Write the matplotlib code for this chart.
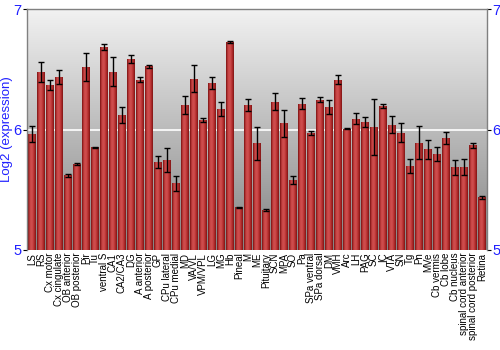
import numpy as np
import matplotlib
matplotlib.use('Agg')
import matplotlib.pyplot as plt
from matplotlib.colors import LinearSegmentedColormap

regions = ['LS', 'RS', 'Cx motor', 'Cx cingulate', 'OB anterior', 'OB posterior', 'Pir', 'Tu',
           'ventral S', 'CA1', 'CA2/CA3', 'DG', 'A anterior', 'A posterior', 'GP', 'CPu lateral',
           'CPu medial', 'MD', 'VA/VL', 'VPM/VPL', 'LG', 'MG', 'Hb', 'Pineal', 'M', 'ME',
           'Pituitary', 'SCN', 'MPA', 'SO', 'Pa', 'SPa ventral', 'SPa dorsal', 'DM', 'VMH', 'Arc',
           'LH', 'PAG', 'SC', 'IC', 'VTA', 'SN', 'Tg', 'Pn', 'MVe', 'Cb vermis', 'Cb lobe',
           'Cb nucleus', 'spinal cord anterior', 'spinal cord posterior', 'Retina']

expr = [5.964, 6.478, 6.367, 6.436, 5.619, 5.713, 6.519, 5.851,
        6.688, 6.481, 6.122, 6.586, 6.414, 6.525, 5.729, 5.749,
        5.552, 6.207, 6.423, 6.080, 6.384, 6.171, 6.727, 5.354, 6.204, 5.884,
        5.331, 6.232, 6.050, 5.580, 6.215, 5.972, 6.249, 6.185, 6.412, 6.006,
        6.091, 6.064, 6.022, 6.196, 6.041, 5.975, 5.696, 5.892, 5.834, 5.796, 5.928,
        5.685, 5.685, 5.870, 5.436]

err = [0.065, 0.08, 0.04, 0.055, 0.015, 0.005, 0.12, 0.004,
       0.025, 0.12, 0.066, 0.036, 0.018, 0.012, 0.05, 0.10,
       0.06, 0.075, 0.115, 0.015, 0.048, 0.058, 0.01, 0.004, 0.05, 0.135,
       0.012, 0.069, 0.115, 0.03, 0.046, 0.014, 0.02, 0.06, 0.037, 0.004,
       0.043, 0.043, 0.233, 0.014, 0.069, 0.076, 0.058, 0.14, 0.077, 0.058, 0.05,
       0.06, 0.066, 0.02, 0.015]

ymin, ymax = 5, 7
blue = '#2020ff'

fig = plt.figure(figsize=(5, 3.5), dpi=100)
ax = fig.add_axes([0.054, 0.286, 0.92, 0.688])

x = np.arange(len(regions))
xl = (-0.55, len(regions) - 0.45)

# grey gradient background
bg = LinearSegmentedColormap.from_list('bg', ['#848484', '#f2f2f2'])
grad = np.linspace(0, 1, 256).reshape(-1, 1)
ax.imshow(grad, cmap=bg, aspect='auto', origin='lower',
          extent=(xl[0], xl[1], ymin, ymax), zorder=0)
ax.axhline(6, color='white', lw=1.2, zorder=1)

# bars with a horizontal red shading
barcm = LinearSegmentedColormap.from_list('bar', ['#7a1010', '#c84444', '#d05050', '#b83030', '#801414'])
hgrad = np.linspace(0, 1, 64).reshape(1, -1)
bars = ax.bar(x, np.array(expr) - ymin, bottom=ymin, width=0.86,
              color='#b83232', edgecolor='none', zorder=2)
for b in bars:
    im = ax.imshow(hgrad, cmap=barcm, aspect='auto',
                   extent=(b.get_x(), b.get_x() + b.get_width(), ymin, b.get_y() + b.get_height()),
                   zorder=2)
    im.set_clip_path(b)

ax.errorbar(x, expr, yerr=err, fmt='none', ecolor='black', elinewidth=1,
            capsize=2, capthick=1, zorder=3)

ax.set_xlim(*xl)
ax.set_ylim(ymin, ymax)
ax.set_yticks([5, 6, 7])
ax.tick_params(axis='y', which='both', left=True, right=True, labelleft=True,
               labelright=True, labelcolor=blue, labelsize=10.5, length=3, pad=1)
ax.set_xticks(x)
ax.set_xticklabels(regions, rotation=90, fontsize=7, family='Liberation Sans')
ax.tick_params(axis='x', length=0, pad=2)
for lab in ax.get_yticklabels():
    lab.set_family('Liberation Sans')
ax.set_ylabel('Log2 (expression)', color=blue, fontsize=9.5, family='Liberation Sans')
ax.yaxis.set_label_coords(-0.031, 0.5)

for s in ['top', 'right', 'left']:
    ax.spines[s].set_color('#808080')
    ax.spines[s].set_linewidth(1)
ax.spines['bottom'].set_visible(False)

fig.savefig('out.png', dpi=100)
